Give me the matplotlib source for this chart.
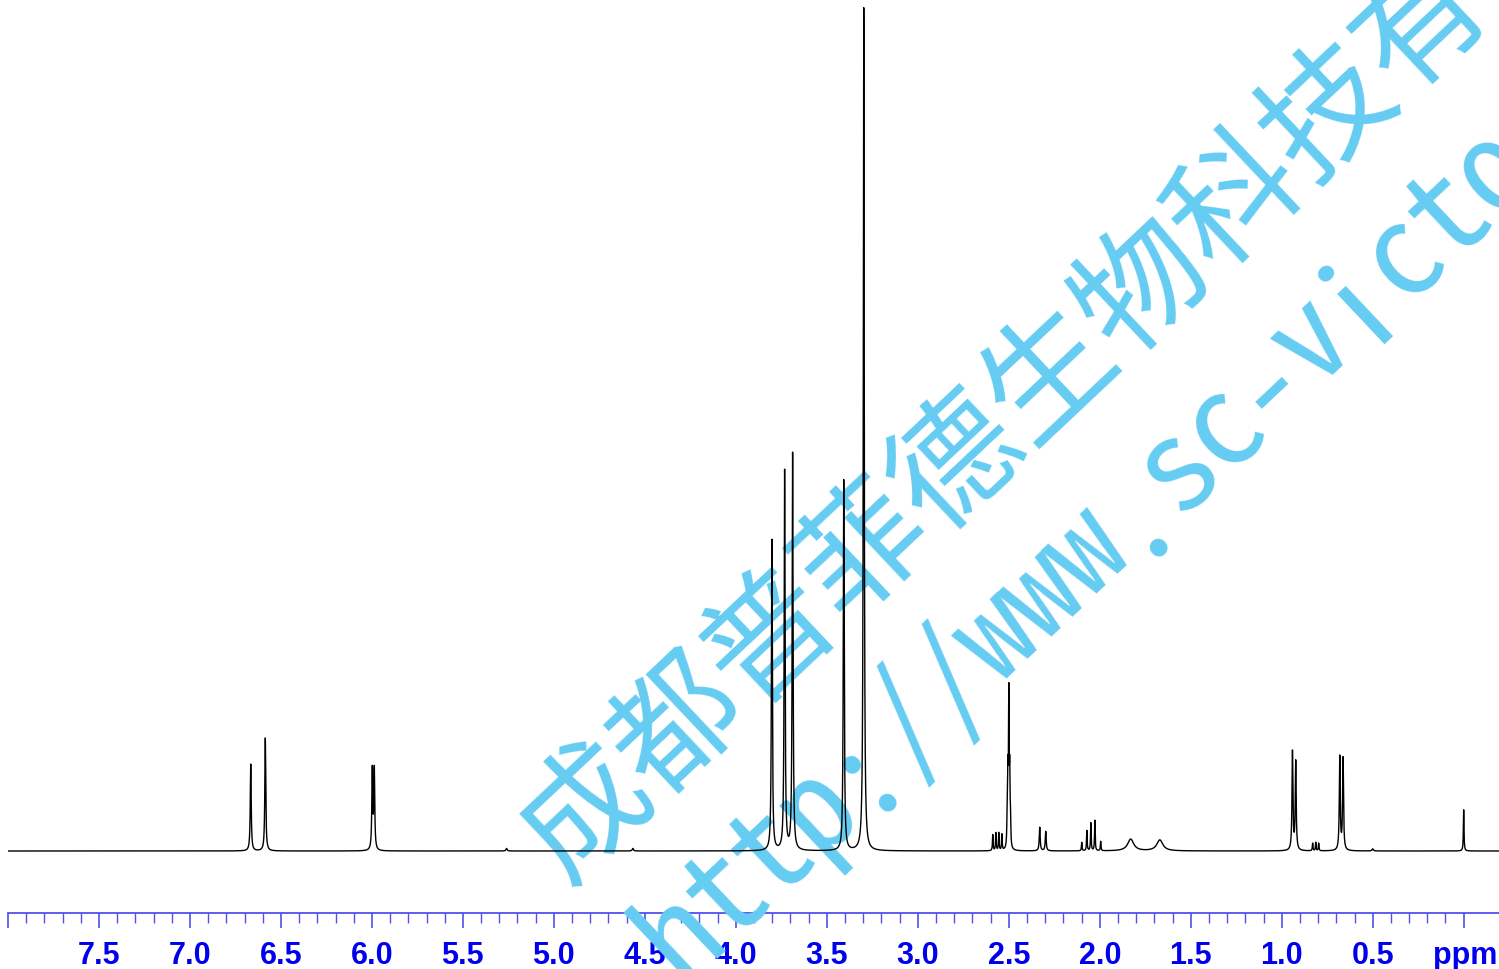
import numpy as np
import matplotlib.pyplot as plt
from matplotlib.transforms import IdentityTransform

plt.rcParams['font.family'] = ['Liberation Sans', 'DejaVu Sans']

# peak list: shift (ppm), height (% of the 3.30 line), half width (ppm)
shifts = [6.666, 6.586, 5.998, 5.987, 5.26, 4.566,
          3.802, 3.732, 3.688, 3.407, 3.297,
          2.588, 2.571, 2.555, 2.538,
          2.509, 2.505, 2.500, 2.495, 2.491,
          2.330, 2.297,
          2.099, 2.071, 2.049, 2.027, 1.995,
          1.830, 1.670,
          0.941, 0.923, 0.830, 0.813, 0.797,
          0.681, 0.663, 0.500, 0.000]
heights = [10.3, 13.4, 9.5, 9.5, 0.3, 0.3,
           36.9, 45.0, 47.1, 44.0, 100.0,
           1.9, 2.1, 2.1, 1.9,
           3.0, 8.0, 17.5, 8.0, 3.0,
           2.8, 2.3,
           1.0, 2.4, 3.3, 3.6, 1.1,
           1.4, 1.3,
           11.7, 10.5, 0.9, 1.0, 0.9,
           11.1, 10.9, 0.25, 4.9]
widths = [0.003, 0.003, 0.003, 0.003, 0.004, 0.004,
          0.003, 0.003, 0.003, 0.003, 0.003,
          0.002, 0.002, 0.002, 0.002,
          0.002, 0.002, 0.002, 0.002, 0.002,
          0.003, 0.003,
          0.002, 0.002, 0.002, 0.002, 0.002,
          0.02, 0.02,
          0.003, 0.003, 0.002, 0.002, 0.002,
          0.003, 0.003, 0.004, 0.002]

tick_ppm = np.arange(0, 8.01, 0.5)
tick_labels = ['%.1f' % t if 0.1 < t < 7.9 else '' for t in tick_ppm]

wm_cn = '成都普菲德生物科技有限公司'
wm_url = 'http://www.sc-victor.com'

ppm = np.linspace(8.0, -0.2, 40000)
spec = np.zeros_like(ppm)
for s, h, w in zip(shifts, heights, widths):
    spec += h * w**2 / ((ppm - s)**2 + w**2)

fig = plt.figure(figsize=(14.99, 9.69), dpi=100)
W, H = 1499, 969
ax = fig.add_axes([8 / W, 56 / H, (W - 8) / W, (H - 56) / H])
ax.patch.set_visible(False)

ax.plot(ppm, spec, color='black', lw=1.0, zorder=2)
ax.set_xlim(8.0, 8.0 - (W - 8) / 181.96)
ax.set_ylim(-62 / 8.43, 851 / 8.43)

for side in ['top', 'left', 'right']:
    ax.spines[side].set_visible(False)
ax.spines['bottom'].set_color('#5050F0')
ax.spines['bottom'].set_linewidth(1.3)
ax.spines['bottom'].set_zorder(0.5)
ax.xaxis.set_zorder(0.5)
ax.set_yticks([])
ax.set_xticks(tick_ppm)
ax.set_xticklabels(tick_labels)
ax.set_xticks(np.arange(0, 8.01, 0.1), minor=True)
ax.tick_params(axis='x', which='major', direction='out', length=11, width=1.2,
               color='#5050F0', labelcolor='#0000EE', labelsize=22, pad=9)
ax.tick_params(axis='x', which='minor', direction='out', length=7, width=1.0,
               color='#5050F0')
for lab in ax.get_xticklabels():
    lab.set_fontweight('bold')

fig.text(1433, 5, 'ppm', transform=IdentityTransform(), color='#0000EE',
         fontsize=22, fontweight='bold', ha='left', va='baseline')

# watermark, drawn between the axis and the spectrum trace
wm_col = '#66CCF2'
ang = 43.3
ca, sa = np.cos(np.radians(ang)), np.sin(np.radians(ang))
ax.text(1145, H - 288, wm_cn, transform=IdentityTransform(), fontsize=92,
        family=['Noto Sans CJK SC', 'DejaVu Sans'], color=wm_col,
        rotation=ang, rotation_mode='anchor', ha='center', va='center',
        zorder=1, clip_on=False)
# url is set half-width, one fixed step per character
step = 62
x0, y0 = 1157, H - 537      # baseline point under the '.'
i_dot = wm_url.index('.')
for i, ch in enumerate(wm_url):
    k = i - i_dot
    ax.text(x0 + k * step * ca, y0 + k * step * sa, ch,
            transform=IdentityTransform(), fontsize=92,
            family=['Noto Sans Mono CJK SC', 'Noto Sans CJK SC', 'DejaVu Sans'],
            color=wm_col, rotation=ang, rotation_mode='anchor',
            ha='center', va='baseline', zorder=1, clip_on=False)

fig.savefig('out.png', dpi=100)
